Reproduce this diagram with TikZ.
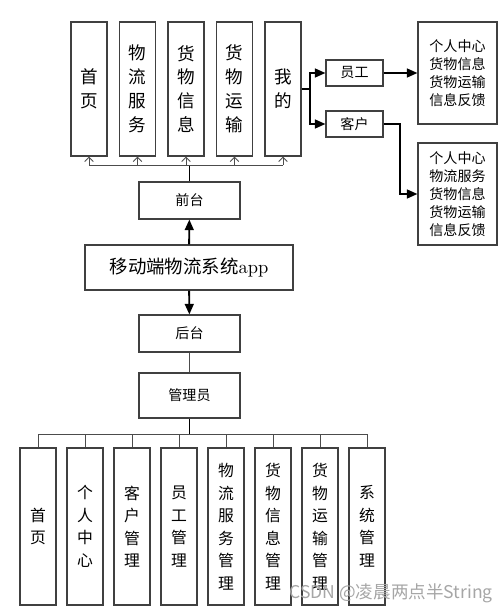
\documentclass[tikz,border=0pt]{standalone}
\usepackage{fontspec}
\newfontfamily\cjk{Noto Sans CJK SC}
\usepackage{tikz}
\usetikzlibrary{arrows.meta, positioning}

\begin{document}
\begin{tikzpicture}[node distance=0.97cm,on grid,>={Triangle[length=6pt,width=5pt]},
        every node/.style={font=\cjk},
        tall/.style={draw=black!75,line width=0.6pt,minimum width=0.72cm,minimum height=2.68cm,
          inner sep=0pt,align=center,font=\cjk\fontsize{10}{13.6}\selectfont},
        low/.style={tall,minimum height=3.14cm,font=\cjk\fontsize{9}{12.8}\selectfont},
        wide/.style={draw=black!75,line width=0.6pt,minimum width=2.02cm,minimum height=0.74cm,
          font=\cjk\fontsize{8}{9}\selectfont},
        tag/.style={wide,minimum width=1.14cm,minimum height=0.52cm},
        list/.style={draw=black!75,line width=0.6pt,minimum width=1.58cm,minimum height=2.04cm,
          align=left,font=\cjk\fontsize{8}{10.2}\selectfont},
        bus/.style={draw=black!70,line width=0.5pt},
        tick/.style={bus,-{Straight Barb[length=2.5pt,width=5pt]}},
        link/.style={draw=black,line width=1.1pt}]

        \useasboundingbox (0,0) rectangle (10,-12.24);

        % front side pages
        \node[tall] (t_1) at (1.78,-1.78) {首\\页};
        \node[tall] (t_2) [right=of t_1] {物\\流\\服\\务};
        \node[tall] (t_3) [right=of t_2] {货\\物\\信\\息};
        \node[tall] (t_4) [right=of t_3] {货\\物\\运\\输};
        \node[tall] (t_5) [right=of t_4] {我\\的};

        \node[wide] (front) at (3.79,-4.01) {前台};
        \node[wide,minimum width=4.16cm,minimum height=0.9cm,font=\cjk\fontsize{10.5}{12}\selectfont]
          (app) at (3.78,-5.35) {移动端物流系统\rmfamily app};
        \node[wide] (back) at (3.79,-6.67) {后台};
        \node[wide,minimum height=0.9cm] (admin) at (3.79,-7.91) {管理员};

        % my page
        \node[tag] (yg) at (7.09,-1.46) {员工};
        \node[tag] (kh) at (7.09,-2.48) {客户};
        \node[list] (box_1) at (9.15,-1.46) {个人中心\\货物信息\\货物运输\\信息反馈};
        \node[list] (box_2) at (9.15,-3.88) {个人中心\\物流服务\\货物信息\\货物运输\\信息反馈};

        % back side pages
        \node[low] (b_1) at (0.76,-10.53) {首\\页};
        \node[low] (b_2) [right=0.94cm of b_1] {个\\人\\中\\心};
        \node[low] (b_3) [right=0.94cm of b_2] {客\\户\\管\\理};
        \node[low] (b_4) [right=0.94cm of b_3] {员\\工\\管\\理};
        \node[low] (b_5) [right=0.94cm of b_4] {物\\流\\服\\务\\管\\理};
        \node[low] (b_6) [right=0.94cm of b_5] {货\\物\\信\\息\\管\\理};
        \node[low] (b_7) [right=0.94cm of b_6] {货\\物\\运\\输\\管\\理};
        \node[low] (b_8) [right=0.94cm of b_7] {系\\统\\管\\理};

        \coordinate (fb) at (3.79,-3.3);
        \coordinate (ab) at (3.79,-8.68);
        \coordinate (split) at (6.2,-1.78);
        \coordinate (turn) at (8.0,-2.48);

        \draw[link,line width=0.9pt] (front) -- (fb);
        \draw[bus] (t_1 |- fb) -- (t_5 |- fb);
        \draw[tick] (t_1 |- fb) -- (t_1);
        \draw[tick] (t_2 |- fb) -- (t_2);
        \draw[tick] (t_3 |- fb) -- (t_3);
        \draw[tick] (t_4 |- fb) -- (t_4);
        \draw[tick] (t_5 |- fb) -- (t_5);

        \draw[link,->] (app) -- (front);
        \draw[link,->] (app) -- (back);
        \draw[bus] (back) -- (admin);

        \draw[link,line width=0.9pt] (admin) -- (ab);
        \draw[bus] (b_1 |- ab) -- (b_8 |- ab);
        \draw[bus] (b_1 |- ab) -- (b_1);
        \draw[bus] (b_2 |- ab) -- (b_2);
        \draw[bus] (b_3 |- ab) -- (b_3);
        \draw[bus] (b_4 |- ab) -- (b_4);
        \draw[bus] (b_5 |- ab) -- (b_5);
        \draw[bus] (b_6 |- ab) -- (b_6);
        \draw[bus] (b_7 |- ab) -- (b_7);
        \draw[bus] (b_8 |- ab) -- (b_8);

        \draw[link,->] (t_5.east) -- (split) |- (yg);
        \draw[link,->] (split) |- (kh);
        \draw[link,->] (yg) -- (box_1);
        \draw[link,->] (kh) -- (turn) |- (box_2);

        \node[text=black!35,font=\cjk\fontsize{10}{12}\selectfont] (mark) at (7.82,-11.86) {CSDN @凌晨两点半String};
    \end{tikzpicture}
\end{document}
